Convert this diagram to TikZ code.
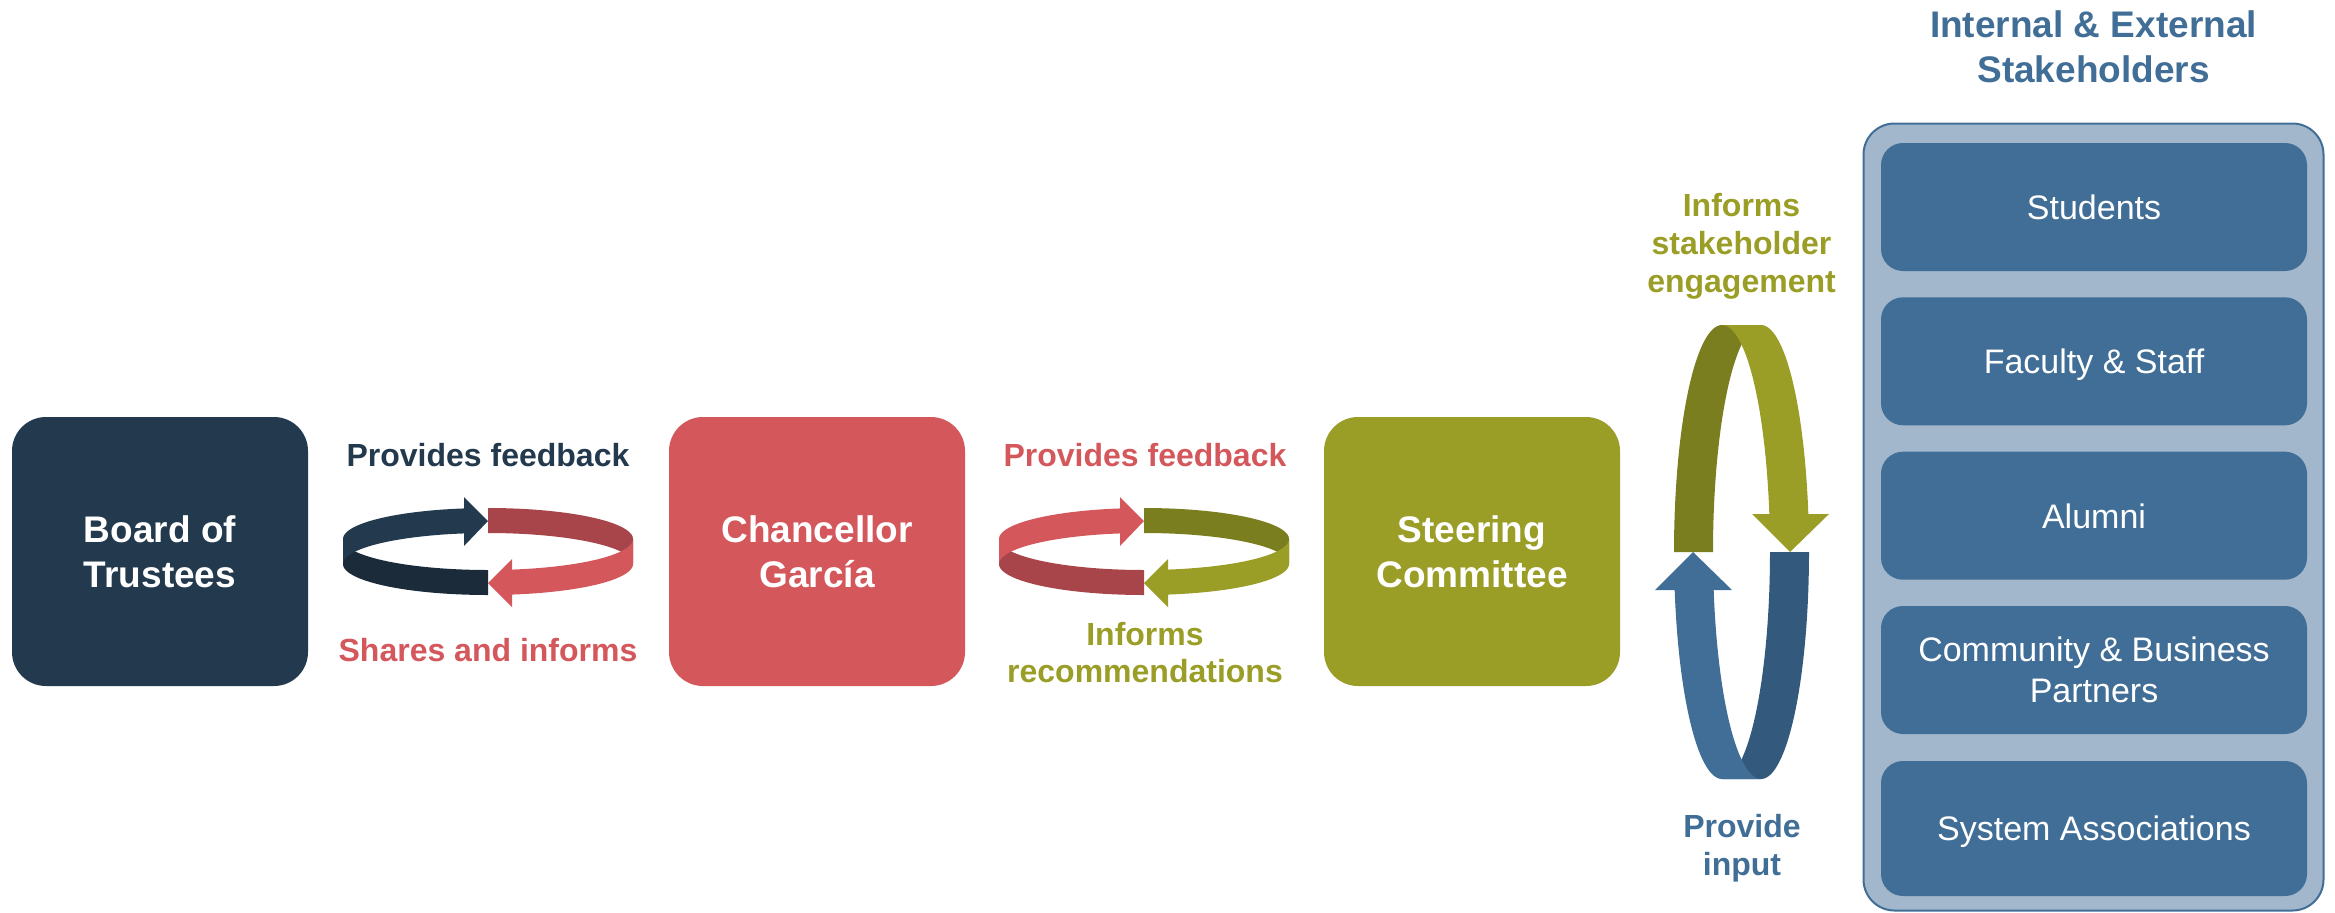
\documentclass[tikz,border=0pt]{standalone}
\usepackage{fontspec}
\setmainfont{Liberation Sans}
\usetikzlibrary{calc}
\definecolor{navy}{HTML}{23394D}
\definecolor{navydark}{HTML}{1B2B3A}
\definecolor{rosered}{HTML}{D4575C}
\definecolor{rosedark}{HTML}{A8454B}
\definecolor{olivemain}{HTML}{9A9D26}
\definecolor{olivedark}{HTML}{7A7E1E}
\definecolor{steelblue}{HTML}{416E96}
\definecolor{steeldark}{HTML}{335A7C}
\definecolor{panelfill}{HTML}{A2B7CB}
% horizontal ring arrow: #1 centre x, #2 back-left (head), #3 front-left, #4 back-right, #5 front-right (head)
\newcommand{\hringarrow}[5]{%
  \fill[#4] plot[domain=90:0,samples=40] ({#1+145*cos(\x)},{539-31*sin(\x)})
     -- plot[domain=0:90,samples=40] ({#1+145*cos(\x)},{564-31*sin(\x)}) -- cycle;
  \fill[#3] plot[domain=180:270,samples=40] ({#1+145*cos(\x)},{539-31*sin(\x)})
     -- plot[domain=270:180,samples=40] ({#1+145*cos(\x)},{564-31*sin(\x)}) -- cycle;
  \fill[#2] plot[domain=180:99.53,samples=40] ({#1+145*cos(\x)},{539-31*sin(\x)})
     -- ({#1-24},497) -- ({#1},521) -- ({#1-24},546)
     -- plot[domain=99.53:180,samples=40] ({#1+145*cos(\x)},{564-31*sin(\x)}) -- cycle;
  \fill[#5] plot[domain=360:279.53,samples=40] ({#1+145*cos(\x)},{539-31*sin(\x)})
     -- ({#1+24},559) -- ({#1},583) -- ({#1+24},607)
     -- plot[domain=279.53:360,samples=40] ({#1+145*cos(\x)},{564-31*sin(\x)}) -- cycle;
}
\begin{document}
\begin{tikzpicture}[x=0.5pt,y=-0.5pt,
  mainbox/.style={rounded corners=17pt, minimum width=148pt, minimum height=134.5pt,
    inner sep=0pt, align=center, text=white,
    font=\fontsize{18.5}{22.5}\selectfont\bfseries},
  panelbox/.style={rounded corners=15.5pt, minimum width=230pt, minimum height=393.5pt,
    inner sep=0pt, fill=panelfill, draw=steelblue, line width=1pt},
  itembox/.style={rounded corners=11pt, minimum width=213pt, minimum height=64pt,
    inner sep=0pt, fill=steelblue, text=white, align=center, text depth=0pt,
    font=\fontsize{17}{20.5}\selectfont},
  lab/.style={anchor=base, inner sep=0pt, font=\fontsize{16}{19}\selectfont\bfseries},
  ttl/.style={anchor=base, inner sep=0pt, text=steelblue,
    font=\fontsize{18.5}{22.5}\selectfont\bfseries}]
\useasboundingbox (0,0) rectangle (2335,912);

% main boxes
\node[mainbox, fill=navy] (board) at (160,551.5) {Board of\\Trustees};
\node[mainbox, fill=rosered] (chan) at (817,551.5) {Chancellor\\García};
\node[mainbox, fill=olivemain] (steer) at (1472,551.5) {Steering\\Committee};

% stakeholder panel
\node[ttl] (title1) at (2093.5,37) {Internal \& External};
\node[ttl] (title2) at (2093.5,82) {Stakeholders};
\node[panelbox] (panel) at (2093.5,517) {};
\node[itembox] (students) at (2094,207) {Students};
\node[itembox] (faculty) at (2094,361.3) {Faculty \& Staff};
\node[itembox] (alumni) at (2094,515.7) {Alumni};
\node[itembox] (community) at (2094,670) {Community \& Business\\Partners};
\node[itembox, minimum height=67.5pt] (system) at (2094,828.5) {System Associations};

% ring between board and chancellor
\coordinate (ringA) at ($(board.east)!0.5!(chan.west)$);
\hringarrow{488}{navy}{navydark}{rosedark}{rosered}
\node[lab, text=navy] (la1) at (488,466) {Provides feedback};
\node[lab, text=rosered] (la2) at (488,661) {Shares and informs};

% ring between chancellor and steering committee
\coordinate (ringB) at ($(chan.east)!0.5!(steer.west)$);
\hringarrow{1144}{rosered}{rosedark}{olivedark}{olivemain}
\node[lab, text=rosered] (lb1) at (1145,466) {Provides feedback};
\node[lab, text=olivemain] (lb2) at (1145,645) {Informs};
\node[lab, text=olivemain] (lb3) at (1145,682) {recommendations};

% vertical ring between steering committee and stakeholders
\fill[olivedark] plot[domain=90:180,samples=50] ({1722+48*cos(\x)},{552-227*sin(\x)})
   -- plot[domain=180:90,samples=50] ({1761+48*cos(\x)},{552-227*sin(\x)}) -- cycle;
\fill[olivemain] plot[domain=90:9.64,samples=50] ({1722+48*cos(\x)},{552-227*sin(\x)})
   -- (1752,514) -- (1790,552) -- (1829,514)
   -- plot[domain=9.64:90,samples=50] ({1761+48*cos(\x)},{552-227*sin(\x)}) -- cycle;
\fill[steeldark] plot[domain=0:-90,samples=50] ({1722+48*cos(\x)},{552-227*sin(\x)})
   -- plot[domain=-90:0,samples=50] ({1761+48*cos(\x)},{552-227*sin(\x)}) -- cycle;
\fill[steelblue] plot[domain=270:189.64,samples=50] ({1722+48*cos(\x)},{552-227*sin(\x)})
   -- (1732,590) -- (1693,552) -- (1655,590)
   -- plot[domain=189.64:270,samples=50] ({1761+48*cos(\x)},{552-227*sin(\x)}) -- cycle;
\node[lab, text=olivemain] (lc1) at (1741.5,216) {Informs};
\node[lab, text=olivemain] (lc2) at (1741.5,254) {stakeholder};
\node[lab, text=olivemain] (lc3) at (1741.5,292) {engagement};
\node[lab, text=steelblue] (lc4) at (1742,837) {Provide};
\node[lab, text=steelblue] (lc5) at (1742,875) {input};
\end{tikzpicture}
\end{document}
